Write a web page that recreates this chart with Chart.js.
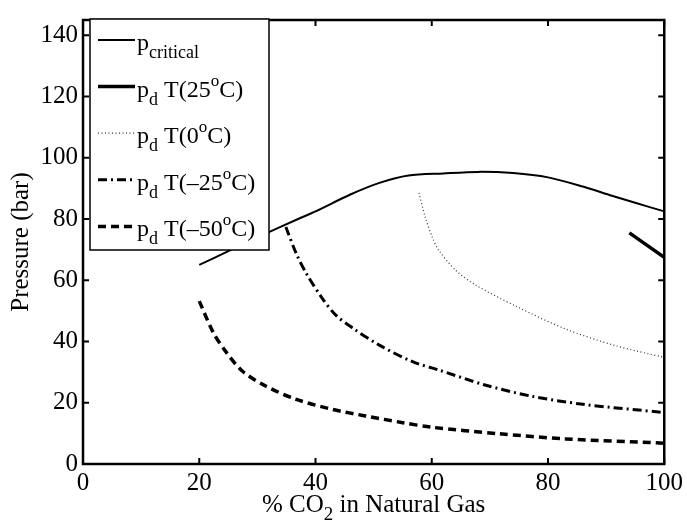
<!DOCTYPE html>
<html>
<head>
<meta charset="utf-8">
<title>Dew pressure vs CO2 content</title>
<script src="https://cdn.jsdelivr.net/npm/chart.js@4/dist/chart.umd.min.js"></script>
<style>
  html, body { margin: 0; padding: 0; background: #fff; }
  #wrap { position: relative; width: 687px; height: 523px; }
</style>
</head>
<body>
<div id="wrap"><canvas id="chart" width="687" height="523"></canvas></div>
<script>
// --- data ---
const xCritical = [20, 25, 30, 37, 40, 46, 51, 56, 62, 68, 74, 80, 86, 91, 95, 100];
const pCritical = [65, 69.5, 74, 80, 82.5, 88, 91.8, 94.2, 94.9, 95.4, 95.0, 93.6, 90.6, 87.6, 85.3, 82.5];

const x25 = [94, 100];
const p25 = [75.5, 67.5];

const x0 = [57.8, 58.9, 60.1, 61.2, 64.1, 67.5, 74.4, 83, 91.5, 100];
const p0 = [88.5, 80.5, 74, 69.8, 63.3, 58.5, 51.6, 44.1, 38.7, 34.8];

const xMinus25 = [34.9, 36.7, 38.4, 41.2, 43.5, 46.4, 50.9, 56.7, 61.2, 69, 77, 86, 100];
const pMinus25 = [77.4, 68.7, 62.3, 54, 48.6, 44.4, 38.9, 33.4, 30.7, 25.9, 22.2, 19.5, 16.8];

const xMinus50 = [20, 22.4, 24.6, 27.5, 31.5, 36.7, 43, 48.6, 55, 60, 71.5, 83, 100];
const pMinus50 = [53.2, 43, 36.6, 30.2, 25.4, 21.1, 17.8, 15.7, 13.5, 12, 9.9, 8.2, 6.8];

const xTicks = [0, 20, 40, 60, 80, 100];
const yTicks = [0, 20, 40, 60, 80, 100, 120, 140];
const yMax = 145;

const FONT = '"Liberation Serif", "Times New Roman", serif';

function toPoints(xs, ys) {
    return xs.map((x, i) => ({ x: x, y: ys[i] }));
}

// legend entries: line style + rich text parts (main / sub / sup)
const legendItems = [
    { width: 2, dash: [], color: '#000',
      parts: [['p', 'n'], ['critical', 'sub']] },
    { width: 3.5, dash: [], color: '#000',
      parts: [['p', 'n'], ['d', 'sub'], [' T(25', 'n'], ['o', 'sup'], ['C)', 'n']] },
    { width: 1.2, dash: [1, 2.5], color: '#333',
      parts: [['p', 'n'], ['d', 'sub'], [' T(0', 'n'], ['o', 'sup'], ['C)', 'n']] },
    { width: 3, dash: [9, 4, 2, 4], color: '#000',
      parts: [['p', 'n'], ['d', 'sub'], [' T(\u201325', 'n'], ['o', 'sup'], ['C)', 'n']] },
    { width: 3.5, dash: [8, 5], color: '#000',
      parts: [['p', 'n'], ['d', 'sub'], [' T(\u201350', 'n'], ['o', 'sup'], ['C)', 'n']] }
];

function drawRich(ctx, x, y, parts, size) {
    ctx.textBaseline = 'alphabetic';
    ctx.textAlign = 'left';
    parts.forEach(([text, kind]) => {
        let fs = size, dy = 0;
        if (kind === 'sub') { fs = Math.round(size * 0.75); dy = 8; }
        if (kind === 'sup') { fs = Math.round(size * 0.72); dy = -11; }
        ctx.font = fs + 'px ' + FONT;
        ctx.fillText(text, x, y + dy);
        x += ctx.measureText(text).width;
    });
    return x;
}

const framePlugin = {
    id: 'matlabFrame',
    afterDraw(chart) {
        const ctx = chart.ctx;
        const a = chart.chartArea;
        const xs = chart.scales.x, ys = chart.scales.y;
        ctx.save();
        ctx.strokeStyle = '#000';
        ctx.fillStyle = '#000';
        // inward ticks on all four sides
        ctx.lineWidth = 2;
        const tl = 6;
        xTicks.forEach(v => {
            const px = xs.getPixelForValue(v);
            ctx.beginPath();
            ctx.moveTo(px, a.bottom); ctx.lineTo(px, a.bottom - tl);
            ctx.moveTo(px, a.top); ctx.lineTo(px, a.top + tl);
            ctx.stroke();
        });
        yTicks.forEach(v => {
            const py = ys.getPixelForValue(v);
            ctx.beginPath();
            ctx.moveTo(a.left, py); ctx.lineTo(a.left + tl, py);
            ctx.moveTo(a.right, py); ctx.lineTo(a.right - tl, py);
            ctx.stroke();
        });
        // box
        ctx.lineWidth = 2.5;
        ctx.strokeRect(a.left, a.top, a.right - a.left, a.bottom - a.top);

        // legend
        const lx = 90, ly = 19, lw = 179, lh = 231;
        ctx.fillStyle = '#fff';
        ctx.fillRect(lx, ly, lw, lh);
        ctx.lineWidth = 1.5;
        ctx.strokeStyle = '#000';
        ctx.strokeRect(lx, ly, lw, lh);
        legendItems.forEach((item, i) => {
            const cy = 40 + i * 46.6;
            ctx.save();
            ctx.strokeStyle = item.color;
            ctx.lineWidth = item.width;
            ctx.setLineDash(item.dash);
            ctx.beginPath();
            ctx.moveTo(98, cy); ctx.lineTo(135, cy);
            ctx.stroke();
            ctx.restore();
            ctx.fillStyle = '#000';
            drawRich(ctx, 137, cy + 10, item.parts, 24);
        });

        // x axis title with subscript
        ctx.fillStyle = '#000';
        const titleParts = [['% CO', 'n'], ['2', 'sub'], [' in Natural Gas', 'n']];
        let w = 0;
        titleParts.forEach(([t, k]) => {
            ctx.font = (k === 'sub' ? 19 : 25) + 'px ' + FONT;
            w += ctx.measureText(t).width;
        });
        drawRich(ctx, (a.left + a.right) / 2 - w / 2, 512, titleParts, 25);
        ctx.restore();
    }
};

function lineSet(label, xs, ys, width, dash, color) {
    return {
        label: label,
        data: toPoints(xs, ys),
        showLine: true,
        borderColor: color,
        backgroundColor: color,
        borderWidth: width,
        borderDash: dash,
        pointRadius: 0,
        tension: 0.3,
        fill: false
    };
}

new Chart(document.getElementById('chart'), {
    type: 'scatter',
    data: {
        datasets: [
            lineSet('p_critical', xCritical, pCritical, 2, [], '#000'),
            lineSet('p_d T(25C)', x25, p25, 3.5, [], '#000'),
            lineSet('p_d T(0C)', x0, p0, 1.2, [1, 2.5], '#333'),
            lineSet('p_d T(-25C)', xMinus25, pMinus25, 3, [9, 4, 2, 4], '#000'),
            lineSet('p_d T(-50C)', xMinus50, pMinus50, 3.5, [8, 5], '#000')
        ]
    },
    options: {
        responsive: false,
        animation: false,
        layout: { padding: { top: 13, right: 21, left: 0, bottom: 0 } },
        plugins: {
            legend: { display: false },
            tooltip: { enabled: false }
        },
        scales: {
            x: {
                type: 'linear',
                min: 0,
                max: 100,
                grid: { display: false, drawTicks: false },
                border: { display: false },
                ticks: {
                    stepSize: 20,
                    padding: 4,
                    color: '#000',
                    font: { family: FONT, size: 25 }
                },
                afterFit: (s) => { s.height = 59; }
            },
            y: {
                type: 'linear',
                min: 0,
                max: yMax,
                grid: { display: false, drawTicks: false },
                border: { display: false },
                ticks: {
                    stepSize: 20,
                    includeBounds: false,
                    padding: 5,
                    color: '#000',
                    font: { family: FONT, size: 25 }
                },
                title: {
                    display: true,
                    text: 'Pressure (bar)',
                    color: '#000',
                    font: { family: FONT, size: 25 },
                    padding: { top: 6, bottom: 0 }
                },
                afterFit: (s) => { s.width = 83; }
            }
        }
    },
    plugins: [framePlugin]
});
</script>
</body>
</html>
